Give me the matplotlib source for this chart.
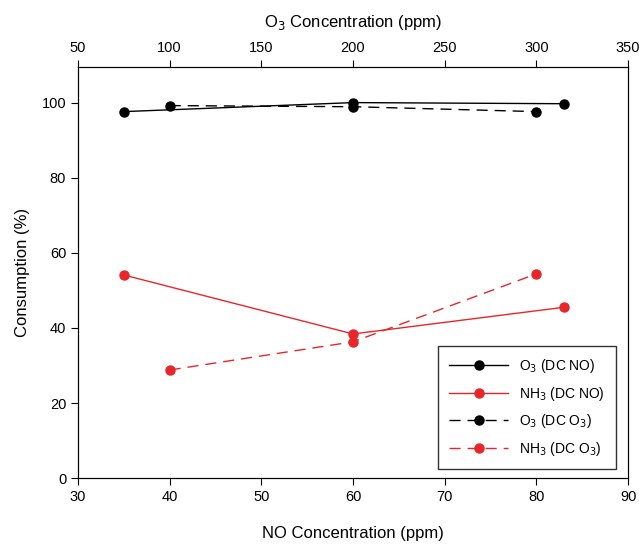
import matplotlib
matplotlib.use('Agg')
import matplotlib.pyplot as plt

plt.rcParams['font.family'] = ['Liberation Sans', 'DejaVu Sans']

# ── Data ────────────────────────────────────────────────────────────────
no_conc      = [35, 60, 83]          # NO concentration (ppm), bottom axis
o3_dc_no     = [97.6, 100.0, 99.7]
nh3_dc_no    = [54.1, 38.4, 45.5]

o3_conc      = [100, 200, 300]       # O3 concentration (ppm), top axis
o3_dc_o3     = [99.2, 98.9, 97.6]
nh3_dc_o3    = [28.8, 36.3, 54.4]

red = '#e8262a'

fig = plt.figure(figsize=(6.39, 5.44), dpi=100)
ax = fig.add_axes([0.122, 0.121, 0.861, 0.756])
ax_top = ax.twiny()

l1, = ax.plot(no_conc, o3_dc_no, color='black', lw=1.0, marker='o', ms=6.5,
              label='O$_3$ (DC NO)')
l2, = ax.plot(no_conc, nh3_dc_no, color=red, lw=1.0, marker='o', ms=6.5,
              label='NH$_3$ (DC NO)')
l3, = ax_top.plot(o3_conc, o3_dc_o3, color='black', lw=1.0, ls=(0, (8, 5)),
                  marker='o', ms=6.5, label='O$_3$ (DC O$_3$)')
l4, = ax_top.plot(o3_conc, nh3_dc_o3, color=red, lw=1.0, ls=(0, (8, 5)),
                  marker='o', ms=6.5, label='NH$_3$ (DC O$_3$)')

ax.set_xlim(30, 90)
ax.set_ylim(0, 109.5)
ax.set_xticks(range(30, 91, 10))
ax.set_yticks(range(0, 101, 20))
ax_top.set_xlim(50, 350)
ax_top.set_xticks(range(50, 351, 50))

for a in (ax, ax_top):
    a.tick_params(direction='out', length=5, labelsize=10.5)
ax.set_xlabel('NO Concentration (ppm)', fontsize=12, labelpad=16)
ax.set_ylabel('Consumption (%)', fontsize=12, labelpad=8)
ax_top.set_xlabel('O$_3$ Concentration (ppm)', fontsize=12, labelpad=10)

leg = ax.legend(handles=[l1, l2, l3, l4], loc='lower right', fontsize=10,
                frameon=True, fancybox=False, edgecolor='black',
                handlelength=4.2, borderpad=0.8, labelspacing=0.7,
                bbox_to_anchor=(0.99, 0.005))
leg.get_frame().set_linewidth(1.0)

plt.savefig('out.png', dpi=100)
